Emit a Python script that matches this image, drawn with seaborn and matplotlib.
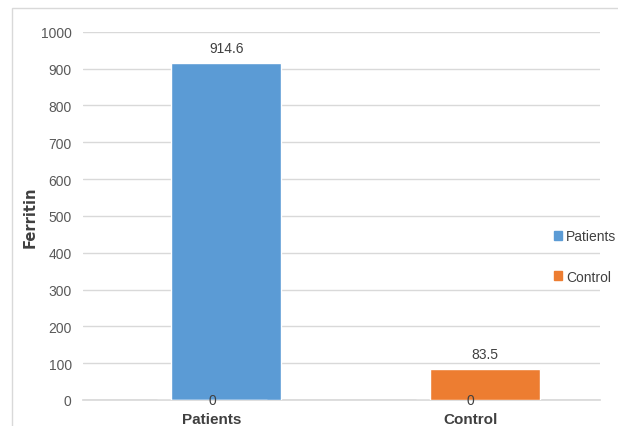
import matplotlib
matplotlib.use("Agg")
import matplotlib.pyplot as plt
import seaborn as sns
import pandas as pd
from matplotlib.patches import Rectangle

# data
categories = ["Patients", "Control"]
series = ["Patients", "Control"]
patients_vals = [914.6, 0]
control_vals = [0, 83.5]
colors = ["#5B9BD5", "#ED7D31"]

rows = []
for i, cat in enumerate(categories):
    rows.append({"group": cat, "series": "Patients", "value": patients_vals[i]})
    rows.append({"group": cat, "series": "Control", "value": control_vals[i]})
df = pd.DataFrame(rows)

sns.set_theme(style="white")
plt.rcParams["font.family"] = ["Liberation Sans Narrow", "Liberation Sans", "DejaVu Sans"]

fig = plt.figure(figsize=(6.18, 4.27), dpi=100)
ax = fig.add_axes([0.134, 0.061, 0.837, 0.862])

sns.barplot(data=df, x="group", y="value", hue="series", order=categories,
            hue_order=series, palette=colors, dodge=False, width=0.425,
            saturation=1, ax=ax, legend=False, zorder=3)

# excel puts the bars a bit right of the category centre
for p in ax.patches:
    if p.get_height() > 0:
        p.set_x(p.get_x() + 0.055)

ax.set_ylim(0, 1000)
ax.set_xlim(-0.5, 1.5)
ax.set_yticks(range(0, 1001, 100))
ax.yaxis.grid(True, color="#D9D9D9", linewidth=1)
ax.set_axisbelow(True)
for s in ["top", "right", "left"]:
    ax.spines[s].set_visible(False)
ax.spines["bottom"].set_color("#D9D9D9")
ax.tick_params(axis="y", length=0, labelsize=10, colors="#595959", pad=8)
ax.tick_params(axis="x", length=0, labelsize=11, colors="#404040", pad=9)
for lab in ax.get_xticklabels():
    lab.set_fontweight("bold")

ax.set_xlabel("")
ax.set_ylabel("Ferritin", fontsize=10.5, fontweight="bold", color="#404040",
              family="DejaVu Sans", labelpad=2)

# data labels
for i, cat in enumerate(categories):
    top = max(patients_vals[i], control_vals[i])
    ax.text(i + 0.055, top + 22, f"{top}", ha="center", va="bottom",
            fontsize=10, color="#404040")
    ax.text(i, 0, "0", ha="center", va="center", fontsize=10, color="#404040")

handles = [Rectangle((0, 0), 1, 1, color=c) for c in colors]
ax.legend(handles, series, loc="center left", bbox_to_anchor=(0.91, 0.39),
          frameon=False, fontsize=10, labelspacing=1.9, handlelength=0.6,
          handleheight=0.6, handletextpad=0.3, labelcolor="#404040",
          borderpad=0, borderaxespad=0)

fig.patches.append(Rectangle((0.02, -0.01), 0.99, 0.99, transform=fig.transFigure,
                             fill=False, edgecolor="#D9D9D9", linewidth=1))

fig.savefig("out.png", dpi=100)
